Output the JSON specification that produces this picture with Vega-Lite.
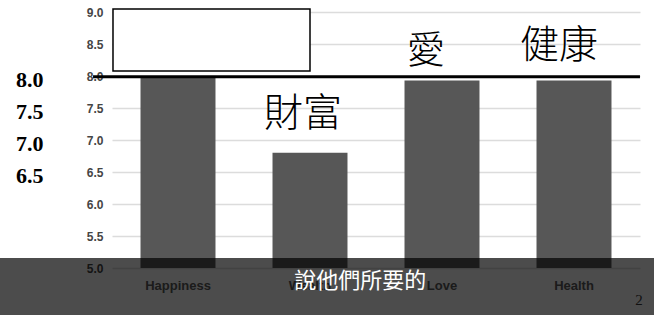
{
  "$schema": "https://vega.github.io/schema/vega-lite/v6.json",
  "width": 528,
  "height": 256,
  "autosize": "none",
  "padding": {"left": 112, "top": 12, "right": 14, "bottom": 47},
  "background": "white",
  "config": {"view": {"stroke": null}},
  "datasets": {
    "bars": [
      {"category": "Happiness", "value": 8.0},
      {"category": "Wealth", "value": 6.8},
      {"category": "Love", "value": 7.93},
      {"category": "Health", "value": 7.93}
    ],
    "one": [{"item": 1}],
    "love": [{"label": "愛"}],
    "health": [{"label": "健康"}],
    "wealth": [{"label": "財富"}],
    "caption": [{"label": "說他們所要的"}],
    "page": [{"label": "2"}]
  },
  "resolve": {"axis": {"y": "independent", "x": "independent"}},
  "layer": [
    {
      "data": {"name": "bars"},
      "mark": {"type": "bar", "color": "#575757"},
      "encoding": {
        "x": {"field": "category", "type": "nominal", "sort": null,
          "scale": {"paddingInner": 0.432, "paddingOuter": 0.216},
          "axis": {"title": null, "orient": "bottom", "domain": false, "ticks": false, "labelAngle": 0,
            "labelPadding": 11, "labelFont": "Liberation Sans", "labelFontSize": 13, "labelFontWeight": "bold",
            "labelColor": "#5a5a5a"}},
        "y": {"field": "value", "type": "quantitative",
          "scale": {"domain": [5, 9], "zero": false, "nice": false},
          "axis": {"title": null, "orient": "left", "values": [5, 5.5, 6, 6.5, 7, 7.5, 8, 8.5, 9], "format": ".1f",
            "domain": false, "ticks": false, "labelPadding": 9, "labelFont": "Liberation Sans",
            "labelFontSize": 12, "labelFontWeight": "bold", "labelColor": "#454545",
            "grid": true, "gridColor": "#dcdcdc", "gridWidth": 1.5}},
        "y2": {"datum": 5}
      }
    },
    {
      "data": {"name": "one"},
      "mark": {"type": "rect", "fill": "black", "opacity": 0.7},
      "encoding": {
        "x": {"datum": "Happiness", "bandPosition": -2.2, "axis": null},
        "x2": {"datum": "Health", "bandPosition": 2.2},
        "y": {"datum": 5.156, "axis": null},
        "y2": {"datum": 4.0}
      }
    },
    {
      "data": {"name": "one"},
      "mark": {"type": "rect", "fill": "white", "stroke": "black", "strokeWidth": 1.5},
      "encoding": {
        "x": {"datum": "Happiness", "bandPosition": -0.367, "axis": null},
        "x2": {"datum": "Wealth", "bandPosition": 0.5},
        "y": {"datum": 9.047, "axis": null},
        "y2": {"datum": 8.078}
      }
    },
    {
      "data": {"name": "one"},
      "mark": {"type": "rule", "color": "black", "strokeWidth": 3},
      "encoding": {
        "x": {"datum": "Happiness", "bandPosition": -0.633, "axis": null},
        "x2": {"datum": "Health", "bandPosition": 1.38},
        "y": {"datum": 7.99,
          "axis": {"title": null, "orient": "left", "values": [8, 7.5, 7, 6.5], "format": ".1f",
            "domain": false, "ticks": false, "grid": false, "labelPadding": 69, "labelOffset": 3,
            "labelFont": "Liberation Serif", "labelFontSize": 22, "labelFontWeight": "bold", "labelColor": "black"}}
      }
    },
    {
      "data": {"name": "love"},
      "mark": {"type": "text", "font": "Noto Sans CJK TC", "fontWeight": 300, "fontSize": 38, "color": "black", "baseline": "middle", "dx": -16},
      "encoding": {
        "text": {"field": "label"},
        "x": {"datum": "Love", "bandPosition": 0.5, "axis": null},
        "y": {"datum": 8.375, "axis": null}
      }
    },
    {
      "data": {"name": "health"},
      "mark": {"type": "text", "font": "Noto Sans CJK TC", "fontWeight": 300, "fontSize": 39, "color": "black", "baseline": "middle", "dx": -15},
      "encoding": {
        "text": {"field": "label"},
        "x": {"datum": "Health", "bandPosition": 0.5, "axis": null},
        "y": {"datum": 8.47, "axis": null}
      }
    },
    {
      "data": {"name": "wealth"},
      "mark": {"type": "text", "font": "Noto Sans CJK TC", "fontWeight": 300, "fontSize": 39, "color": "black", "baseline": "middle", "dx": -7},
      "encoding": {
        "text": {"field": "label"},
        "x": {"datum": "Wealth", "bandPosition": 0.5, "axis": null},
        "y": {"datum": 7.414, "axis": null}
      }
    },
    {
      "data": {"name": "caption"},
      "mark": {"type": "text", "font": "Noto Sans CJK TC", "fontWeight": "normal", "fontSize": 22, "color": "white", "baseline": "middle"},
      "encoding": {
        "text": {"field": "label"},
        "x": {"datum": "Wealth", "bandPosition": 1.17, "axis": null},
        "y": {"datum": 4.797, "axis": null}
      }
    },
    {
      "data": {"name": "page"},
      "mark": {"type": "text", "font": "Liberation Serif", "fontSize": 15, "color": "#111111", "baseline": "middle"},
      "encoding": {
        "text": {"field": "label"},
        "x": {"datum": "Health", "bandPosition": 1.367, "axis": null},
        "y": {"datum": 4.5, "axis": null}
      }
    }
  ]
}
